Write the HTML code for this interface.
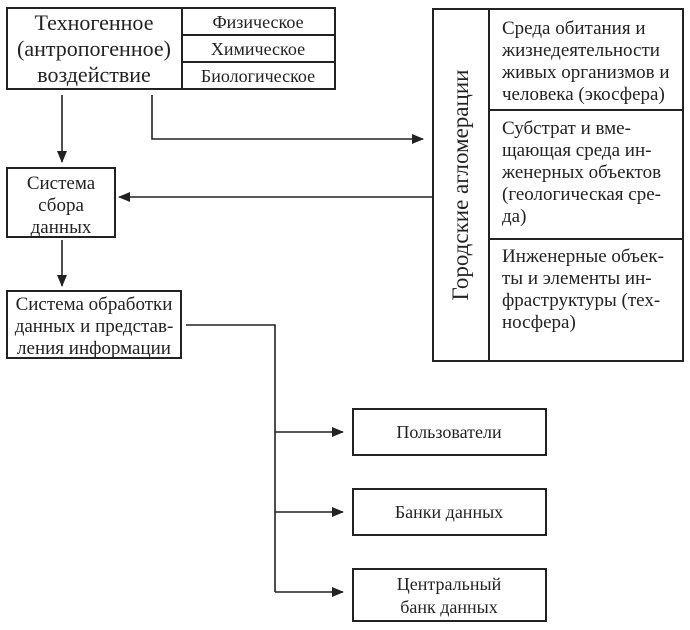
<!DOCTYPE html>
<html><head><meta charset="utf-8"><style>
html,body{margin:0;padding:0;background:#fff}
svg{display:block}
text{font-family:"Liberation Serif","Noto Serif CJK SC",serif;fill:#222}
</style></head><body>
<svg width="690" height="630" viewBox="0 0 690 630" xmlns="http://www.w3.org/2000/svg">
<defs><marker id="a" markerWidth="12" markerHeight="10" refX="11" refY="5" orient="auto" markerUnits="userSpaceOnUse"><path d="M0,0 L12,5 L0,10 Z" fill="#222"/></marker></defs>
<g fill="none" stroke="#222" stroke-width="2">
<rect x="7" y="8" width="328" height="81"/>
<line x1="182" y1="8" x2="182" y2="89"/>
<line x1="182" y1="35" x2="335" y2="35"/>
<line x1="182" y1="62" x2="335" y2="62"/>
<rect x="7" y="168" width="108" height="69"/>
<rect x="7" y="291" width="174" height="67"/>
<rect x="433" y="9" width="250" height="352"/>
<line x1="489" y1="9" x2="489" y2="361"/>
<line x1="489" y1="110" x2="683" y2="110"/>
<line x1="489" y1="239" x2="683" y2="239"/>
<rect x="353" y="409" width="193" height="46"/>
<rect x="353" y="489" width="193" height="46"/>
<rect x="353" y="569" width="193" height="52"/>
</g>
<g fill="none" stroke="#222" stroke-width="1.6">
<line x1="62" y1="95" x2="62" y2="162" marker-end="url(#a)"/>
<line x1="62" y1="240" x2="62" y2="286" marker-end="url(#a)"/>
<polyline points="152,95 152,139 423,139" marker-end="url(#a)"/>
<line x1="433" y1="197" x2="119" y2="197" marker-end="url(#a)"/>
<polyline points="186,325 275,325 275,592"/>
<line x1="275" y1="432" x2="343" y2="432" marker-end="url(#a)"/>
<line x1="275" y1="512" x2="343" y2="512" marker-end="url(#a)"/>
<line x1="275" y1="592" x2="343" y2="592" marker-end="url(#a)"/>
</g>
<g font-size="22" text-anchor="middle">
<text x="94" y="30">Техногенное</text>
<text x="94" y="56">(антропогенное)</text>
<text x="94" y="82">воздействие</text>
</g>
<g font-size="18" text-anchor="middle">
<text x="258" y="28">Физическое</text>
<text x="258" y="55">Химическое</text>
<text x="258" y="82">Биологическое</text>
<text x="449" y="438">Пользователи</text>
<text x="449" y="518">Банки данных</text>
<text x="449" y="590">Центральный</text>
<text x="449" y="613">банк данных</text>
</g>
<g font-size="19" text-anchor="middle">
<text x="61" y="189">Система</text>
<text x="61" y="211">сбора</text>
<text x="61" y="233">данных</text>
<text x="94" y="310">Система обработки</text>
<text x="94" y="332">данных и представ-</text>
<text x="94" y="354">ления информации</text>
</g>
<g font-size="19">
<text x="502" y="34">Среда обитания и</text>
<text x="502" y="56">жизнедеятельности</text>
<text x="502" y="78">живых организмов и</text>
<text x="502" y="100">человека (экосфера)</text>
<text x="502" y="134">Субстрат и вме-</text>
<text x="502" y="156">щающая среда ин-</text>
<text x="502" y="178">женерных объектов</text>
<text x="502" y="200">(геологическая сре-</text>
<text x="502" y="222">да)</text>
<text x="502" y="262">Инженерные объек-</text>
<text x="502" y="284">ты и элементы ин-</text>
<text x="502" y="306">фраструктуры (тех-</text>
<text x="502" y="328">носфера)</text>
</g>
<text font-size="23" text-anchor="middle" transform="translate(468,185) rotate(-90)">Городские агломерации</text>
</svg>
</body></html>
